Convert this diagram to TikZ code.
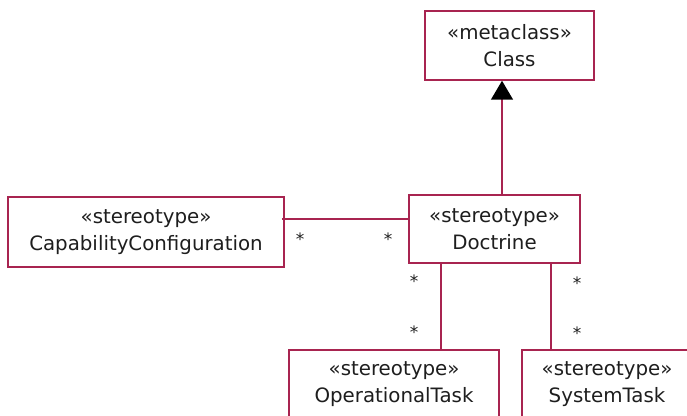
\documentclass[tikz,border=0pt]{standalone}
\usepackage{fontspec}
\setmainfont{DejaVu Sans}
\usetikzlibrary{arrows.meta}
\definecolor{umledge}{RGB}{168,36,80}
\definecolor{umltext}{RGB}{30,30,30}
\tikzset{
  umlclass/.style={draw=umledge, line width=1.5pt, fill=white, rectangle,
    align=center, inner sep=0pt, text=umltext,
    font=\fontsize{19.8pt}{27pt}\selectfont},
  assoc/.style={draw=umledge, line width=1.5pt},
  generalize/.style={draw=umledge, line width=1.5pt,
    -{Triangle[width=22pt,length=19pt,black]}},
  mult/.style={inner sep=0pt, anchor=base, text=umltext,
    font=\fontsize{17pt}{20pt}\selectfont}
}
\begin{document}
\begin{tikzpicture}[x=1pt,y=1pt]
  \fill[white] (0,0) rectangle (687,415);
  \clip (0,0) rectangle (687,415);

  % classes
  \node[umlclass, minimum width=169pt, minimum height=69pt] (cls) at (509.5,369.5)
    {«metaclass»\\Class};
  \node[umlclass, minimum width=171pt, minimum height=68pt] (doc) at (494.5,186)
    {«stereotype»\\Doctrine};
  \node[umlclass, minimum width=276pt, minimum height=70pt] (cap) at (146,183)
    {«stereotype»\\CapabilityConfiguration};
  \node[umlclass, minimum width=210pt, minimum height=68pt] (op) at (394,31)
    {«stereotype»\\OperationalTask};
  \node[umlclass, minimum width=170pt, minimum height=68pt] (sys) at (607,31)
    {«stereotype»\\SystemTask};

  % generalization Doctrine -> Class
  \draw[generalize] ([xshift=7.5pt]doc.north) -- ([xshift=-7.5pt]cls.south);

  % associations
  \draw[assoc] ([xshift=-3pt,yshift=13pt]cap.east) -- ([yshift=10pt]doc.west);
  \draw[assoc] ([xshift=-53.5pt]doc.south) -- ([xshift=47pt]op.north);
  \draw[assoc] ([xshift=56.5pt]doc.south) -- ([xshift=-56pt]sys.north);

  % multiplicities
  \node[mult] (m1) at (300,169) {*};
  \node[mult] (m2) at (388,169) {*};
  \node[mult] (m3) at (414,128) {*};
  \node[mult] (m4) at (414,77) {*};
  \node[mult] (m5) at (577,126) {*};
  \node[mult] (m6) at (577,76) {*};
\end{tikzpicture}
\end{document}
